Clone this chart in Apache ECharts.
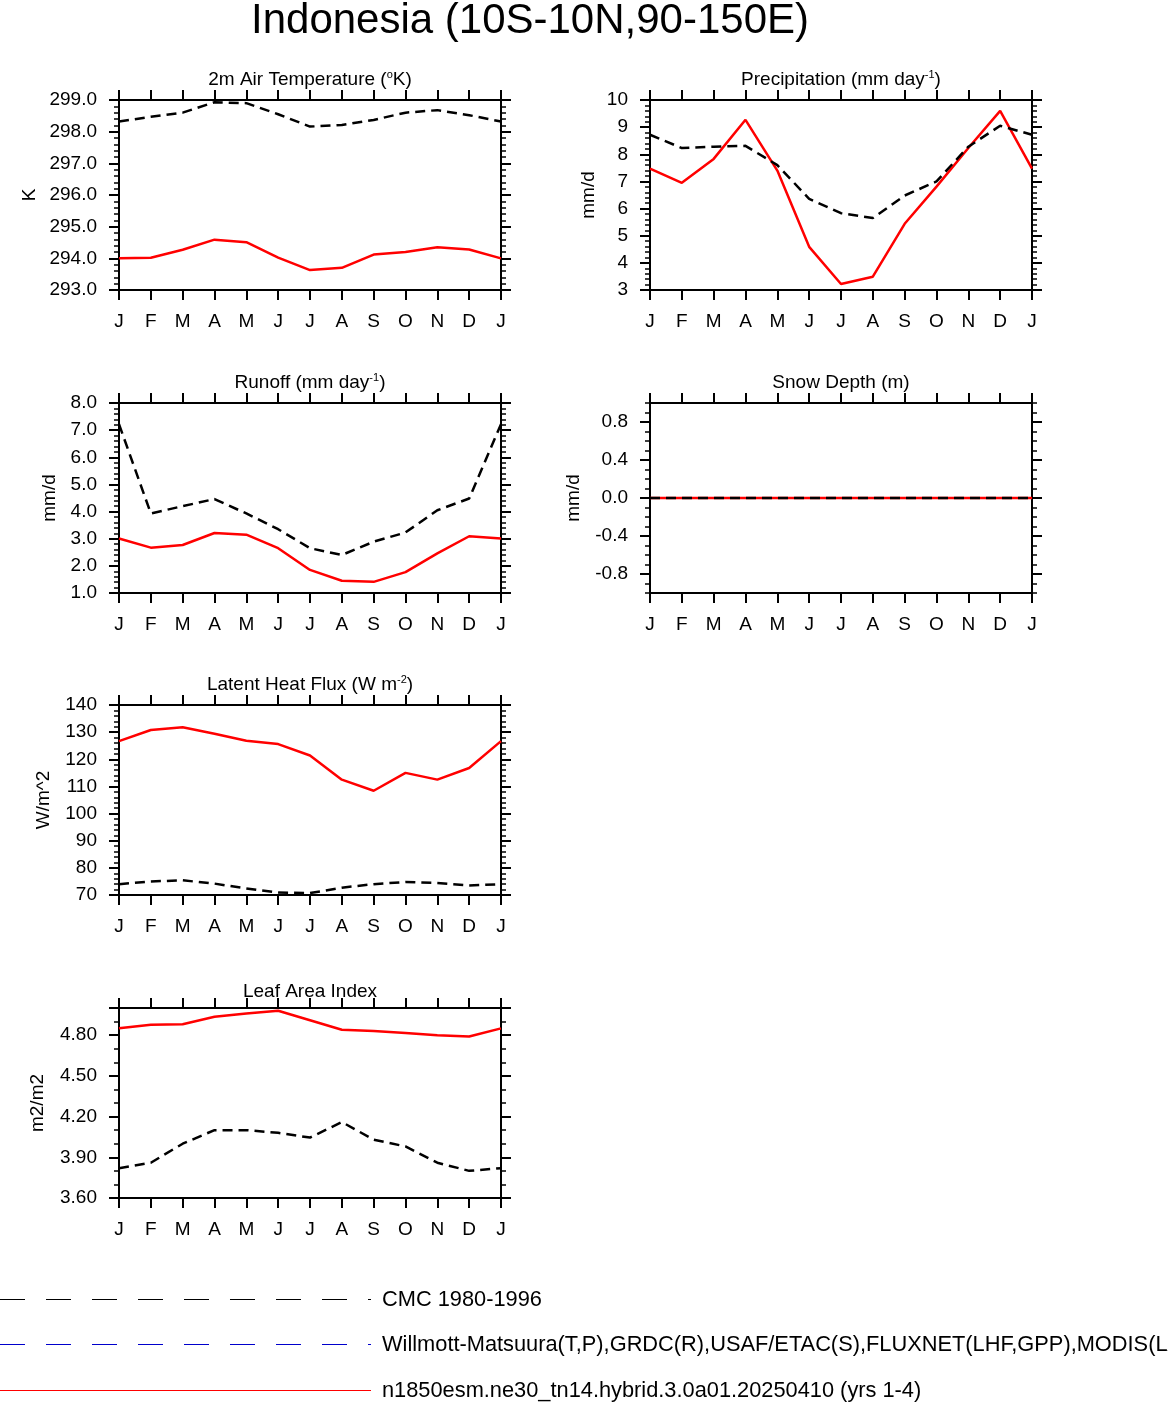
<!DOCTYPE html>
<html>
<head>
<meta charset="utf-8">
<title>Indonesia (10S-10N,90-150E)</title>
<script src="https://cdn.jsdelivr.net/npm/echarts@6/dist/echarts.min.js"></script>
<style>
  html, body { margin: 0; padding: 0; background: #fff; }
  #chart { width: 1168px; height: 1402px; }
</style>
</head>
<body>
<div id="chart"></div>
<script>
// month ticks, Jan repeated at the end
const months = ['J', 'F', 'M', 'A', 'M', 'J', 'J', 'A', 'S', 'O', 'N', 'D', 'J'];

// model (red) vs observations (black dashed)
const tempModel = [294.0, 294.02, 294.27, 294.59, 294.51, 294.02, 293.63, 293.7, 294.12, 294.2, 294.35, 294.28, 294.0];
const tempObs = [298.32, 298.47, 298.6, 298.93, 298.9, 298.55, 298.16, 298.21, 298.37, 298.6, 298.68, 298.52, 298.32];

const precipModel = [7.47, 6.95, 7.83, 9.27, 7.4, 4.59, 3.22, 3.49, 5.44, 6.81, 8.23, 9.6, 7.47];
const precipObs = [8.72, 8.23, 8.28, 8.31, 7.6, 6.36, 5.83, 5.65, 6.48, 7.0, 8.28, 9.05, 8.72];

const runoffModel = [3.01, 2.67, 2.77, 3.21, 3.15, 2.65, 1.85, 1.45, 1.41, 1.77, 2.46, 3.09, 3.01];
const runoffObs = [7.22, 3.93, 4.2, 4.46, 3.93, 3.35, 2.65, 2.4, 2.89, 3.23, 4.05, 4.48, 7.22];

const snowModel = [0, 0, 0, 0, 0, 0, 0, 0, 0, 0, 0, 0, 0];
const snowObs = [0, 0, 0, 0, 0, 0, 0, 0, 0, 0, 0, 0, 0];
const snowTicks = [-0.8, -0.4, 0, 0.4, 0.8];

const lhfModel = [126.7, 130.8, 131.8, 129.4, 126.8, 125.6, 121.4, 112.5, 108.4, 115.0, 112.5, 116.8, 126.7];
const lhfObs = [74.0, 75.0, 75.4, 74.2, 72.4, 70.9, 70.7, 72.7, 74.0, 74.8, 74.4, 73.5, 74.0];

const laiModel = [4.85, 4.876, 4.88, 4.935, 4.96, 4.98, 4.91, 4.84, 4.83, 4.815, 4.80, 4.79, 4.85];
const laiObs = [3.82, 3.86, 4.0, 4.10, 4.10, 4.08, 4.045, 4.16, 4.03, 3.98, 3.86, 3.80, 3.82];

const legendLabels = [
    'CMC 1980-1996',
    'Willmott-Matsuura(T,P),GRDC(R),USAF/ETAC(S),FLUXNET(LHF,GPP),MODIS(LAI)',
    'n1850esm.ne30_tn14.hybrid.3.0a01.20250410 (yrs 1-4)',
];

const FONT = '"Liberation Sans", Helvetica, Arial, sans-serif';
const W = 382;
const H = 190;

const panels = [
    { title: '2m Air Temperature ({sup|o}K)', unit: 'K', left: 119, top: 100, tOff: 31, min: 293, max: 299, step: 1, minor: 5, digits: 1, gap: 80, model: tempModel, obs: tempObs },
    { title: 'Precipitation (mm day{sup|-1})', unit: 'mm/d', left: 650, top: 100, tOff: 31, min: 3, max: 10, step: 1, minor: 5, digits: 0, gap: 52, model: precipModel, obs: precipObs },
    { title: 'Runoff (mm day{sup|-1})', unit: 'mm/d', left: 119, top: 403, tOff: 31, min: 1, max: 8, step: 1, minor: 5, digits: 1, gap: 60, model: runoffModel, obs: runoffObs },
    { title: 'Snow Depth (m)', unit: 'mm/d', left: 650, top: 403, tOff: 31, min: -1, max: 1, step: 0.1, minor: 0, digits: 1, gap: 67, model: snowModel, obs: snowObs, custom: snowTicks },
    { title: 'Latent Heat Flux (W m{sup|-2})', unit: 'W/m^2', left: 119, top: 705, tOff: 31, min: 70, max: 140, step: 10, minor: 5, digits: 0, gap: 66, model: lhfModel, obs: lhfObs },
    { title: 'Leaf Area Index', unit: 'm2/m2', left: 119, top: 1008, tOff: 27, min: 3.6, max: 5.0, step: 0.3, minor: 3, digits: 2, gap: 72, model: laiModel, obs: laiObs },
];

const axisLine = { show: true, onZero: false, lineStyle: { color: '#000', width: 2 } };
const labelStyle = { color: '#000', fontFamily: FONT, fontSize: 19 };

const grid = [];
const xAxis = [];
const yAxis = [];
const series = [];
const title = [{
    text: 'Indonesia (10S-10N,90-150E)',
    left: 530, top: 0, textAlign: 'center', padding: 0,
    textStyle: { color: '#000', fontFamily: FONT, fontSize: 42, fontWeight: 'normal' },
}];

panels.forEach((p, i) => {
    grid.push({ left: p.left, top: p.top, width: W, height: H });

    title.push({
        text: p.title,
        left: p.left + W / 2, top: p.top - p.tOff, textAlign: 'center', padding: 0,
        textStyle: {
            color: '#000', fontFamily: FONT, fontSize: 19, fontWeight: 'normal', lineHeight: 22,
            rich: { sup: { fontFamily: FONT, fontSize: 11, lineHeight: 22, verticalAlign: 'top', color: '#000' } },
        },
    });

    const xBase = {
        type: 'category', gridIndex: i, data: months, boundaryGap: false,
        axisLine,
        axisTick: { show: true, inside: false, length: 10, lineStyle: { color: '#000', width: 2 } },
        splitLine: { show: false },
    };
    xAxis.push(Object.assign({}, xBase, {
        position: 'bottom',
        axisLabel: Object.assign({ margin: 22, interval: 0 }, labelStyle),
    }));
    xAxis.push(Object.assign({}, xBase, { position: 'top', axisLabel: { show: false } }));

    const fmt = (v) => Number(v).toFixed(p.digits);
    const yBase = {
        type: 'value', gridIndex: i, min: p.min, max: p.max, interval: p.step,
        axisLine,
        splitLine: { show: false },
    };
    const majorTick = { show: true, inside: false, length: 10, lineStyle: { color: '#000', width: 2 } };
    const minorTickStyle = { show: true, length: 5, lineStyle: { color: '#000', width: 1.5 } };

    const sides = ['left', 'right'];
    const yIdx = yAxis.length;
    sides.forEach((side) => {
        const main = side === 'left';
        if (p.custom) {
            // fine 0.1 ticks plus labelled major ticks drawn on an overlaid axis
            yAxis.push(Object.assign({}, yBase, {
                position: side,
                axisTick: { show: true, inside: false, length: 5, lineStyle: { color: '#000', width: 1.5 } },
                axisLabel: main ? Object.assign({ margin: 22, formatter: fmt, customValues: p.custom }, labelStyle) : { show: false },
                name: main ? p.unit : '',
                nameLocation: 'middle', nameGap: p.gap, nameRotate: 90,
                nameTextStyle: labelStyle,
            }));
            yAxis.push(Object.assign({}, yBase, {
                position: side,
                axisTick: Object.assign({ customValues: p.custom }, majorTick),
                axisLabel: { show: false },
            }));
        } else {
            yAxis.push(Object.assign({}, yBase, {
                position: side,
                axisTick: majorTick,
                minorTick: Object.assign({ splitNumber: p.minor }, minorTickStyle),
                axisLabel: main ? Object.assign({ margin: 22, formatter: fmt, showMaxLabel: p.max % p.step < 1e-9 || p.step - (p.max % p.step) < 1e-9 }, labelStyle) : { show: false },
                name: main ? p.unit : '',
                nameLocation: 'middle', nameGap: p.gap, nameRotate: 90,
                nameTextStyle: labelStyle,
            }));
        }
    });

    series.push({
        type: 'line', xAxisIndex: 2 * i, yAxisIndex: yIdx, data: p.model,
        symbol: 'none', lineStyle: { color: '#ff0000', width: 2.5 }, z: 3,
    });
    series.push({
        type: 'line', xAxisIndex: 2 * i, yAxisIndex: yIdx, data: p.obs,
        symbol: 'none', lineStyle: { color: '#000', width: 2.5, type: [10, 6] }, z: 4,
    });
});

// legend at the bottom, drawn as plain graphics
const legendRows = [
    { y: 1299.5, color: '#000', dash: [25, 21] },
    { y: 1344.5, color: '#0000cc', dash: [25, 21] },
    { y: 1390.5, color: '#ff0000', dash: null },
];
const graphic = [];
legendRows.forEach((r, k) => {
    graphic.push({
        type: 'line', shape: { x1: 0, y1: r.y, x2: 371, y2: r.y },
        style: { stroke: r.color, lineWidth: 1, lineDash: r.dash },
    });
    graphic.push({
        type: 'text', x: 382, y: r.y,
        style: { text: legendLabels[k], fill: '#000', font: '21.8px ' + FONT, verticalAlign: 'middle', align: 'left' },
    });
});

const chart = echarts.init(document.getElementById('chart'), null, { renderer: 'canvas' });
chart.setOption({
    animation: false,
    backgroundColor: '#fff',
    title, grid, xAxis, yAxis, series, graphic,
});
</script>
</body>
</html>
